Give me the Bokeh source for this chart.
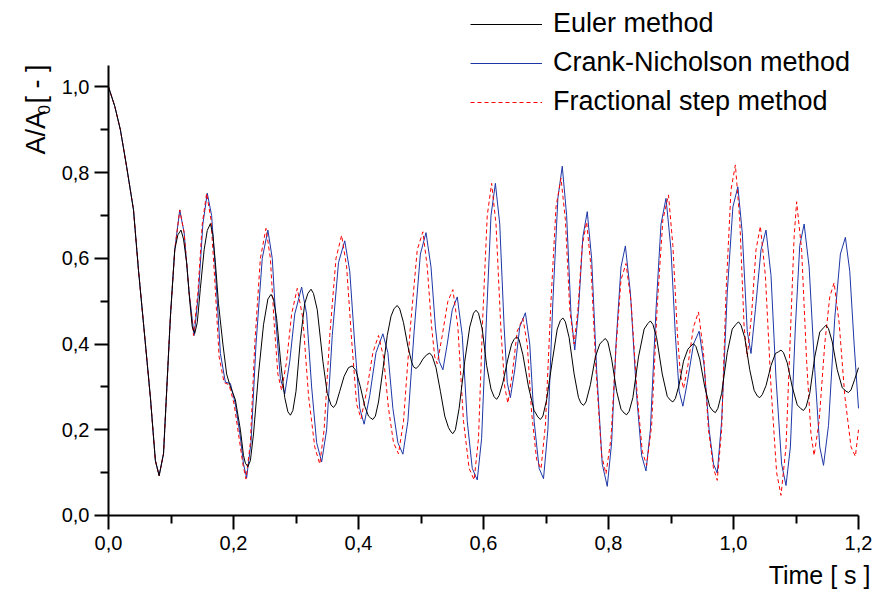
from bokeh.plotting import figure
from bokeh.models import (FixedTicker, CustomJSTickFormatter, Label, Legend,
                          LegendItem, Range1d)
from bokeh.embed import file_html
from bokeh.resources import INLINE
import math

# Common initial decay shared by the three schemes (time [s], A/A0)
start_pts = [(0.000, 1.000), (0.010, 0.955), (0.019, 0.900), (0.029, 0.814),
             (0.040, 0.713), (0.048, 0.572), (0.056, 0.448), (0.067, 0.276),
             (0.075, 0.128), (0.081, 0.093), (0.088, 0.144), (0.099, 0.463),
             (0.106, 0.620)]

euler_pts = [
    (0.111, 0.655), (0.116, 0.666), (0.120, 0.645), (0.125, 0.590),
    (0.130, 0.500), (0.134, 0.440), (0.138, 0.425), (0.142, 0.450),
    (0.147, 0.530), (0.153, 0.620), (0.158, 0.665), (0.163, 0.681),
    (0.167, 0.655), (0.171, 0.590), (0.176, 0.494), (0.183, 0.400),
    (0.189, 0.330), (0.194, 0.305), (0.203, 0.270), (0.211, 0.200),
    (0.216, 0.140), (0.219, 0.122), (0.223, 0.114), (0.227, 0.128),
    (0.232, 0.190), (0.240, 0.330), (0.248, 0.445), (0.255, 0.505),
    (0.260, 0.516), (0.264, 0.505), (0.269, 0.460), (0.276, 0.350),
    (0.282, 0.275), (0.287, 0.242), (0.291, 0.234), (0.295, 0.245),
    (0.300, 0.290), (0.307, 0.410), (0.314, 0.495), (0.319, 0.518),
    (0.324, 0.528), (0.328, 0.518), (0.334, 0.480), (0.343, 0.360),
    (0.350, 0.285), (0.356, 0.258), (0.360, 0.252), (0.364, 0.260),
    (0.370, 0.290), (0.377, 0.325), (0.384, 0.345), (0.390, 0.349),
    (0.396, 0.338), (0.403, 0.300), (0.410, 0.255), (0.416, 0.232),
    (0.419, 0.228), (0.423, 0.224), (0.427, 0.232), (0.432, 0.265),
    (0.439, 0.340), (0.446, 0.420), (0.452, 0.465), (0.457, 0.483),
    (0.462, 0.490), (0.466, 0.482), (0.472, 0.450), (0.479, 0.395),
    (0.485, 0.358), (0.488, 0.347), (0.492, 0.343), (0.497, 0.350),
    (0.503, 0.365), (0.509, 0.375), (0.514, 0.379), (0.518, 0.372),
    (0.524, 0.345), (0.531, 0.290), (0.538, 0.232), (0.544, 0.205),
    (0.548, 0.195), (0.551, 0.191), (0.555, 0.200), (0.561, 0.250),
    (0.570, 0.360), (0.578, 0.440), (0.584, 0.472), (0.588, 0.479),
    (0.592, 0.472), (0.598, 0.435), (0.605, 0.350), (0.612, 0.295),
    (0.617, 0.277), (0.621, 0.271), (0.625, 0.280), (0.631, 0.310),
    (0.639, 0.365), (0.645, 0.400), (0.649, 0.411), (0.653, 0.417),
    (0.657, 0.410), (0.663, 0.375), (0.672, 0.300), (0.681, 0.245),
    (0.687, 0.230), (0.691, 0.224), (0.695, 0.232), (0.701, 0.270),
    (0.710, 0.360), (0.718, 0.435), (0.723, 0.455), (0.727, 0.461),
    (0.731, 0.452), (0.737, 0.415), (0.745, 0.330), (0.752, 0.275),
    (0.756, 0.262), (0.760, 0.257), (0.764, 0.265), (0.771, 0.305),
    (0.779, 0.370), (0.786, 0.400), (0.791, 0.408), (0.795, 0.413),
    (0.799, 0.405), (0.805, 0.365), (0.813, 0.290), (0.820, 0.248),
    (0.825, 0.239), (0.829, 0.235), (0.833, 0.243), (0.839, 0.275),
    (0.848, 0.370), (0.857, 0.435), (0.863, 0.448), (0.867, 0.454),
    (0.871, 0.446), (0.877, 0.415), (0.886, 0.330), (0.894, 0.278),
    (0.899, 0.269), (0.903, 0.265), (0.907, 0.273), (0.913, 0.305),
    (0.920, 0.360), (0.927, 0.388), (0.932, 0.396), (0.936, 0.401),
    (0.940, 0.394), (0.946, 0.365), (0.954, 0.300), (0.962, 0.254),
    (0.967, 0.244), (0.971, 0.240), (0.975, 0.250), (0.981, 0.285),
    (0.990, 0.380), (0.998, 0.435), (1.004, 0.446), (1.008, 0.452),
    (1.012, 0.444), (1.018, 0.415), (1.026, 0.340), (1.033, 0.292),
    (1.038, 0.279), (1.042, 0.275), (1.046, 0.282), (1.052, 0.303),
    (1.060, 0.350), (1.067, 0.378), (1.072, 0.382), (1.076, 0.386),
    (1.080, 0.380), (1.086, 0.356), (1.094, 0.300), (1.102, 0.258),
    (1.108, 0.249), (1.112, 0.245), (1.116, 0.253), (1.122, 0.285),
    (1.130, 0.370), (1.138, 0.428), (1.144, 0.438), (1.148, 0.444),
    (1.152, 0.436), (1.158, 0.405), (1.166, 0.340), (1.174, 0.298),
    (1.180, 0.290), (1.184, 0.287), (1.188, 0.293), (1.194, 0.318),
    (1.200, 0.345)]

crank_pts = [
    (0.114, 0.713), (0.121, 0.660), (0.129, 0.520), (0.137, 0.420),
    (0.144, 0.520), (0.151, 0.680), (0.158, 0.752), (0.165, 0.700),
    (0.171, 0.572), (0.179, 0.378), (0.187, 0.311), (0.195, 0.308),
    (0.203, 0.260), (0.211, 0.183), (0.216, 0.120), (0.221, 0.088),
    (0.228, 0.170), (0.236, 0.400), (0.246, 0.600), (0.255, 0.666),
    (0.262, 0.600), (0.268, 0.450), (0.275, 0.320), (0.282, 0.284),
    (0.290, 0.360), (0.298, 0.470), (0.309, 0.533), (0.317, 0.470),
    (0.325, 0.300), (0.333, 0.170), (0.341, 0.125), (0.349, 0.200),
    (0.358, 0.420), (0.368, 0.590), (0.378, 0.641), (0.386, 0.570),
    (0.394, 0.400), (0.402, 0.250), (0.409, 0.213), (0.418, 0.280),
    (0.428, 0.380), (0.439, 0.424), (0.447, 0.380), (0.455, 0.250),
    (0.463, 0.170), (0.471, 0.143), (0.479, 0.220), (0.489, 0.430),
    (0.499, 0.610), (0.508, 0.660), (0.516, 0.580), (0.523, 0.440),
    (0.529, 0.360), (0.535, 0.340), (0.542, 0.400), (0.550, 0.480),
    (0.558, 0.510), (0.566, 0.420), (0.574, 0.220), (0.582, 0.110),
    (0.590, 0.083), (0.597, 0.180), (0.605, 0.470), (0.612, 0.700),
    (0.619, 0.775), (0.626, 0.680), (0.633, 0.440), (0.638, 0.310),
    (0.643, 0.275), (0.650, 0.340), (0.658, 0.440), (0.667, 0.473),
    (0.674, 0.400), (0.681, 0.220), (0.689, 0.110), (0.696, 0.086),
    (0.703, 0.200), (0.711, 0.500), (0.719, 0.740), (0.726, 0.815),
    (0.733, 0.700), (0.740, 0.470), (0.746, 0.386), (0.752, 0.480),
    (0.759, 0.650), (0.766, 0.709), (0.773, 0.600), (0.781, 0.340),
    (0.790, 0.120), (0.798, 0.068), (0.805, 0.170), (0.812, 0.400),
    (0.820, 0.580), (0.827, 0.629), (0.835, 0.520), (0.845, 0.280),
    (0.853, 0.140), (0.860, 0.104), (0.867, 0.200), (0.876, 0.480),
    (0.884, 0.680), (0.892, 0.740), (0.900, 0.620), (0.907, 0.420),
    (0.913, 0.290), (0.919, 0.255), (0.926, 0.310), (0.936, 0.400),
    (0.945, 0.430), (0.953, 0.350), (0.961, 0.200), (0.968, 0.120),
    (0.974, 0.099), (0.981, 0.220), (0.990, 0.520), (0.999, 0.720),
    (1.007, 0.767), (1.014, 0.660), (1.022, 0.430), (1.028, 0.378),
    (1.035, 0.480), (1.044, 0.620), (1.052, 0.666), (1.060, 0.560),
    (1.068, 0.320), (1.077, 0.120), (1.084, 0.070), (1.091, 0.160),
    (1.099, 0.440), (1.106, 0.630), (1.113, 0.680), (1.121, 0.580),
    (1.130, 0.340), (1.138, 0.160), (1.144, 0.117), (1.152, 0.210),
    (1.162, 0.460), (1.171, 0.610), (1.179, 0.649), (1.186, 0.570),
    (1.193, 0.400), (1.200, 0.250)]

fractional_pts = [
    (0.114, 0.713), (0.121, 0.660), (0.129, 0.520), (0.136, 0.420),
    (0.143, 0.520), (0.150, 0.680), (0.157, 0.752), (0.164, 0.690),
    (0.170, 0.550), (0.177, 0.370), (0.185, 0.310), (0.193, 0.305),
    (0.201, 0.260), (0.209, 0.180), (0.215, 0.120), (0.220, 0.085),
    (0.227, 0.170), (0.234, 0.400), (0.243, 0.600), (0.252, 0.670),
    (0.259, 0.600), (0.265, 0.450), (0.271, 0.330), (0.277, 0.292),
    (0.285, 0.360), (0.293, 0.470), (0.302, 0.530), (0.311, 0.460),
    (0.320, 0.280), (0.330, 0.160), (0.338, 0.120), (0.345, 0.200),
    (0.354, 0.420), (0.364, 0.600), (0.373, 0.654), (0.381, 0.580),
    (0.389, 0.410), (0.397, 0.260), (0.404, 0.226), (0.413, 0.290),
    (0.423, 0.380), (0.432, 0.420), (0.440, 0.370), (0.448, 0.250),
    (0.456, 0.170), (0.464, 0.144), (0.472, 0.220), (0.483, 0.440),
    (0.494, 0.620), (0.503, 0.662), (0.510, 0.580), (0.517, 0.440),
    (0.522, 0.370), (0.526, 0.354), (0.534, 0.420), (0.543, 0.500),
    (0.551, 0.527), (0.559, 0.440), (0.568, 0.220), (0.577, 0.110),
    (0.585, 0.083), (0.592, 0.180), (0.599, 0.470), (0.606, 0.700),
    (0.613, 0.775), (0.620, 0.680), (0.628, 0.430), (0.634, 0.300),
    (0.639, 0.262), (0.646, 0.330), (0.654, 0.430), (0.663, 0.460),
    (0.670, 0.400), (0.677, 0.240), (0.685, 0.130), (0.692, 0.109),
    (0.699, 0.210), (0.708, 0.500), (0.716, 0.720), (0.724, 0.787),
    (0.731, 0.690), (0.738, 0.480), (0.745, 0.400), (0.751, 0.480),
    (0.758, 0.630), (0.765, 0.685), (0.772, 0.580), (0.780, 0.340),
    (0.789, 0.140), (0.796, 0.097), (0.804, 0.180), (0.812, 0.390),
    (0.820, 0.550), (0.828, 0.588), (0.836, 0.500), (0.846, 0.280),
    (0.854, 0.150), (0.861, 0.117), (0.869, 0.210), (0.878, 0.490),
    (0.887, 0.690), (0.896, 0.748), (0.903, 0.630), (0.910, 0.430),
    (0.915, 0.330), (0.920, 0.296), (0.927, 0.350), (0.936, 0.440),
    (0.944, 0.475), (0.952, 0.380), (0.960, 0.200), (0.968, 0.110),
    (0.974, 0.082), (0.981, 0.200), (0.988, 0.520), (0.996, 0.760),
    (1.003, 0.818), (1.010, 0.690), (1.017, 0.440), (1.022, 0.370),
    (1.029, 0.470), (1.036, 0.620), (1.043, 0.675), (1.051, 0.560),
    (1.060, 0.300), (1.069, 0.100), (1.076, 0.047), (1.084, 0.160),
    (1.092, 0.460), (1.097, 0.650), (1.101, 0.732), (1.109, 0.620),
    (1.117, 0.360), (1.124, 0.190), (1.129, 0.140), (1.137, 0.220),
    (1.146, 0.400), (1.154, 0.510), (1.161, 0.543), (1.169, 0.450),
    (1.178, 0.280), (1.188, 0.160), (1.195, 0.138), (1.200, 0.200)]

x_major = [0.0, 0.2, 0.4, 0.6, 0.8, 1.0, 1.2]
x_minor = [0.1, 0.3, 0.5, 0.7, 0.9, 1.1]
y_major = [0.0, 0.2, 0.4, 0.6, 0.8, 1.0]
y_minor = [0.1, 0.3, 0.5, 0.7, 0.9]

series_names = ["Euler method", "Crank-Nicholson method", "Fractional step method"]

FONT = "Liberation Sans"


def split(points):
    pts = start_pts + points
    return [p[0] for p in pts], [p[1] for p in pts]


# The frame spans the whole canvas; the axes sit at x=0 / y=0 inside it so
# that the titles and the legend above the curves are not clipped.
p = figure(width=877, height=595, output_backend="svg", toolbar_location=None,
           x_range=Range1d(-0.1728, 1.2304), y_range=Range1d(-0.18667, 1.20167),
           min_border=0)
p.outline_line_color = None
p.grid.visible = False
p.background_fill_color = "white"
p.border_fill_color = "white"

t_cn, a_cn = split(crank_pts)
t_fs, a_fs = split(fractional_pts)
t_eu, a_eu = split(euler_pts)

r_cn = p.line(t_cn, a_cn, line_color="#1d36a6", line_width=1)
r_fs = p.line(t_fs, a_fs, line_color="#ff0000", line_width=1, line_dash="4 3")
r_eu = p.line(t_eu, a_eu, line_color="black", line_width=1)

fmt = CustomJSTickFormatter(code="return tick.toFixed(1).replace('.', ',');")
for ax, majors, minors, bnds in ((p.xaxis[0], x_major, x_minor, (0, 1.2)),
                                 (p.yaxis[0], y_major, y_minor, (0, 1.05))):
    ax.fixed_location = 0
    ax.bounds = bnds
    ax.ticker = FixedTicker(ticks=majors, minor_ticks=minors)
    ax.formatter = fmt
    ax.axis_line_width = 2
    ax.major_tick_line_width = 2
    ax.minor_tick_line_width = 2
    ax.major_tick_in = 0
    ax.major_tick_out = 14
    ax.minor_tick_in = 0
    ax.minor_tick_out = 8
    ax.major_label_text_font = FONT
    ax.major_label_text_font_size = "20px"
    ax.major_label_text_color = "black"
p.xaxis.major_label_standoff = 7
p.yaxis.major_label_standoff = 5

legend = Legend(items=[LegendItem(label=series_names[0], renderers=[r_eu]),
                       LegendItem(label=series_names[1], renderers=[r_cn]),
                       LegendItem(label=series_names[2], renderers=[r_fs])],
                location=(470, 478), padding=0, margin=0, spacing=8,
                glyph_width=72, glyph_height=20, label_standoff=11,
                label_text_font=FONT, label_text_font_size="27px",
                label_text_color="black",
                border_line_color=None, background_fill_alpha=0)
p.add_layout(legend)

# axis titles
p.add_layout(Label(x=1.2192, y=-0.140, text="Time [ s ]", text_align="right",
                   text_baseline="alphabetic", text_font=FONT,
                   text_font_size="25px", text_color="black"))
p.add_layout(Label(x=-0.1168, y=0.8423, text="A/A", angle=math.pi / 2,
                   text_align="left", text_baseline="alphabetic",
                   text_font=FONT, text_font_size="27px", text_color="black"))
p.add_layout(Label(x=-0.1040, y=0.9357, text="0", angle=math.pi / 2,
                   text_align="left", text_baseline="alphabetic",
                   text_font=FONT, text_font_size="17px", text_color="black"))
p.add_layout(Label(x=-0.1168, y=0.9613, text="[ - ]", angle=math.pi / 2,
                   text_align="left", text_baseline="alphabetic",
                   text_font=FONT, text_font_size="27px", text_color="black"))

open("out.html", "w").write(file_html(p, INLINE))
